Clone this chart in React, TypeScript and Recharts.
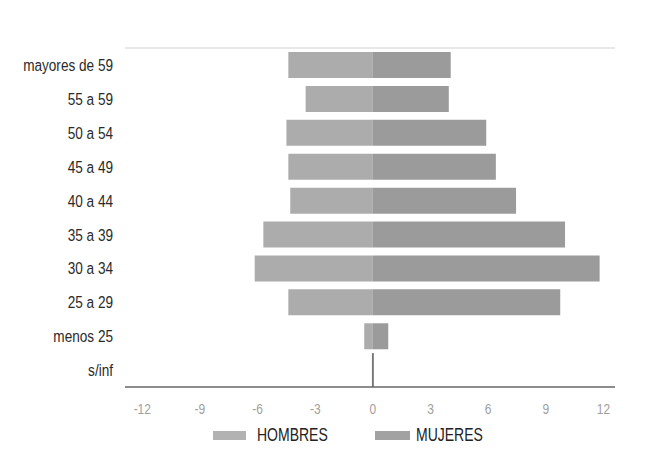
import React from 'react';
import { BarChart, Bar, XAxis, YAxis, Legend, ReferenceArea } from 'recharts';

const categories = ['mayores de 59', '55 a 59', '50 a 54', '45 a 49', '40 a 44', '35 a 39', '30 a 34', '25 a 29', 'menos 25', 's/inf'];
const hombres = [-4.4, -3.5, -4.5, -4.4, -4.3, -5.7, -6.15, -4.4, -0.45, 0];
const mujeres = [4.05, 3.95, 5.9, 6.4, 7.45, 10.0, 11.8, 9.75, 0.8, 0];
const xTicks = [-12, -9, -6, -3, 0, 3, 6, 9, 12];

const data = categories.map((c, i) => ({ name: c, HOMBRES: hombres[i], MUJERES: mujeres[i] }));

const FONT = '"Liberation Sans", Arial, sans-serif';
const COLOR_H = '#acacac';
const COLOR_M = '#9b9b9b';
const SQUEEZE = 0.8;

const CondensedYTick = (props: any) => {
  const { x, y, payload } = props;
  return (
    <g transform={`translate(${x},${y}) scale(${SQUEEZE},1)`}>
      <text x={0} y={0} dy="0.36em" textAnchor="end" fill="#2a2a2a" fontSize={17} fontFamily={FONT}>
        {payload.value}
      </text>
    </g>
  );
};

const CondensedXTick = (props: any) => {
  const { x, y, payload } = props;
  return (
    <g transform={`translate(${x},${y}) scale(${SQUEEZE},1)`}>
      <text x={0} y={0} dy="0.71em" textAnchor="middle" fill="#a0a0a0" fontSize={15} fontFamily={FONT}>
        {payload.value}
      </text>
    </g>
  );
};

const labelStyle: React.CSSProperties = {
  display: 'inline-block',
  transform: `scaleX(${SQUEEZE})`,
  transformOrigin: 'left center',
  whiteSpace: 'nowrap',
};

const LegendContent = () => (
  <div style={{ position: 'relative', height: 20, width: 651, fontFamily: FONT, fontSize: 17.5, color: '#222' }}>
    <div style={{ position: 'absolute', left: 213, top: 6, width: 33, height: 9, background: '#b2b2b2' }} />
    <div style={{ position: 'absolute', left: 257, top: 0, lineHeight: '20px' }}>
      <span style={labelStyle}>HOMBRES</span>
    </div>
    <div style={{ position: 'absolute', left: 375, top: 6, width: 35, height: 9, background: '#a2a2a2' }} />
    <div style={{ position: 'absolute', left: 416, top: 0, lineHeight: '20px' }}>
      <span style={labelStyle}>MUJERES</span>
    </div>
  </div>
);

export default function App() {
  return (
    <div style={{ position: 'absolute', left: 0, top: 0, width: 651, height: 455, background: '#fff' }}>
      <BarChart
        width={651}
        height={455}
        data={data}
        layout="vertical"
        stackOffset="sign"
        barCategoryGap="12%"
        margin={{ top: 47, right: 36, bottom: 18, left: 0 }}
      >
        <XAxis
          type="number"
          xAxisId={0}
          domain={[-12.9, 12.6]}
          allowDataOverflow
          ticks={xTicks}
          tickLine={false}
          tickMargin={10}
          height={30}
          axisLine={{ stroke: '#666', strokeWidth: 1.5 }}
          tick={<CondensedXTick />}
        />
        <XAxis
          type="number"
          xAxisId="top"
          orientation="top"
          domain={[-12.9, 12.6]}
          allowDataOverflow
          ticks={xTicks}
          tick={false}
          tickLine={false}
          height={1}
          axisLine={{ stroke: '#cfcfcf', strokeWidth: 1 }}
        />
        <YAxis
          type="category"
          dataKey="name"
          width={125}
          axisLine={false}
          tickLine={false}
          tickMargin={6}
          interval={0}
          tick={<CondensedYTick />}
        />
        <Legend verticalAlign="bottom" content={<LegendContent />} wrapperStyle={{ bottom: 10, left: 0, width: 651 }} />
        <Bar dataKey="HOMBRES" stackId="a" fill={COLOR_H} isAnimationActive={false} />
        <Bar dataKey="MUJERES" stackId="a" fill={COLOR_M} isAnimationActive={false} />
        <ReferenceArea x1={-0.05} x2={0.05} y1="s/inf" y2="s/inf" fill="#777" fillOpacity={1} stroke="none" ifOverflow="visible" />
      </BarChart>
    </div>
  );
}
